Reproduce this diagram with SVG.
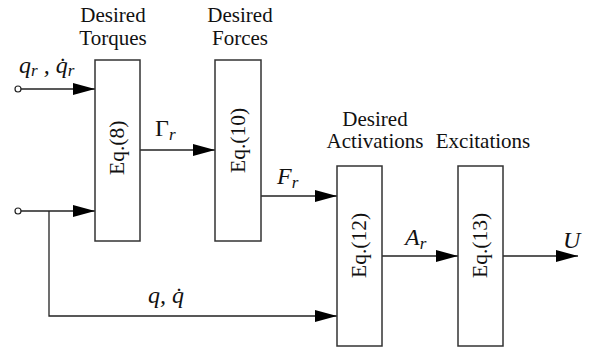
<svg xmlns="http://www.w3.org/2000/svg" width="607" height="349" viewBox="0 0 607 349">
<defs>
<marker id="arr" markerWidth="22" markerHeight="12" refX="22" refY="6" orient="auto" markerUnits="userSpaceOnUse">
<path d="M0,0 L22,6 L0,12 Z" fill="#000"/>
</marker>
<style>
.box{fill:#fff;stroke:#333;stroke-width:1.5}
.ln{fill:none;stroke:#222;stroke-width:1.3}
text{font-family:'Liberation Serif','Times New Roman','DejaVu Serif',serif;fill:#111}
.lbl{font-size:21px;text-anchor:middle}
.eq{font-size:21.5px}
.m{font-style:italic;font-size:24px}
.s{font-size:17px}
.up{font-style:normal}
</style>
</defs>
<rect width="607" height="349" fill="#fff"/>
<g id="connectors">
<circle cx="18" cy="89" r="3" fill="#fff" stroke="#222" stroke-width="1.2"/>
<path class="ln" d="M21,89 H95" marker-end="url(#arr)"/>
<circle cx="18" cy="211" r="3" fill="#fff" stroke="#222" stroke-width="1.2"/>
<path class="ln" d="M21,211 H95" marker-end="url(#arr)"/>
<path class="ln" d="M49,211 V316 H337" marker-end="url(#arr)"/>
<path class="ln" d="M140,150 H215" marker-end="url(#arr)"/>
<path class="ln" d="M261,196 H337" marker-end="url(#arr)"/>
<path class="ln" d="M382,256 H458" marker-end="url(#arr)"/>
<path class="ln" d="M503,256 H578" marker-end="url(#arr)"/>
<text class="m" x="19" y="73">q<tspan class="s" dy="3">r</tspan><tspan dy="-3"> , q̇</tspan><tspan class="s" dy="3">r</tspan></text>
<text class="m" x="155" y="136"><tspan class="up">Γ</tspan><tspan class="s" dy="4">r</tspan></text>
<text class="m" x="277" y="184">F<tspan class="s" dy="4">r</tspan></text>
<text class="m" x="405" y="245">A<tspan class="s" dy="4">r</tspan></text>
<text class="m" x="563" y="248">U</text>
<text class="m" x="148" y="303">q, q̇</text>
</g>
<g id="eq8">
<rect class="box" x="95" y="60" width="45" height="181"/>
<text class="eq" transform="translate(124,175) rotate(-90)">Eq.(8)</text>
<text class="lbl" x="113" y="22">Desired</text>
<text class="lbl" x="113" y="45">Torques</text>
</g>
<g id="eq10">
<rect class="box" x="215" y="60" width="46" height="181"/>
<text class="eq" transform="translate(245,173) rotate(-90)">Eq.(10)</text>
<text class="lbl" x="240" y="22">Desired</text>
<text class="lbl" x="240" y="45">Forces</text>
</g>
<g id="eq12">
<rect class="box" x="337" y="166" width="45" height="180"/>
<text class="eq" transform="translate(366,278) rotate(-90)">Eq.(12)</text>
<text class="lbl" x="375" y="126">Desired</text>
<text class="lbl" x="375" y="148">Activations</text>
</g>
<g id="eq13">
<rect class="box" x="458" y="166" width="45" height="180"/>
<text class="eq" transform="translate(487,278) rotate(-90)">Eq.(13)</text>
<text class="lbl" x="483" y="148">Excitations</text>
</g>
</svg>
